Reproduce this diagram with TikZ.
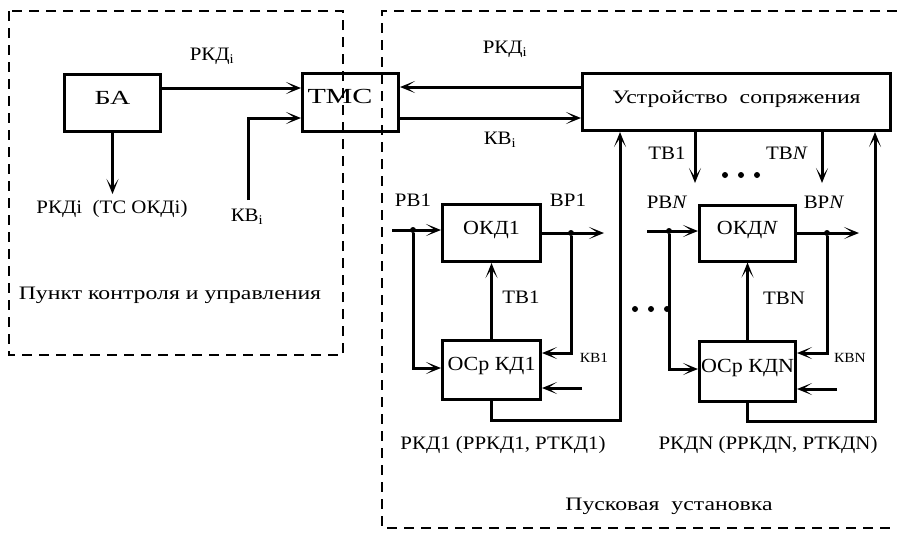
\documentclass[tikz,border=0pt]{standalone}
\usepackage{fontspec}
\setmainfont{Liberation Serif}
\newfontfamily\fA[FakeStretch=1.1]{Liberation Serif}
\newfontfamily\fW[FakeStretch=1.25]{Liberation Serif}
\newfontfamily\fB[FakeStretch=1.4]{Liberation Serif}
\usetikzlibrary{arrows.meta}
\begin{document}
\begin{tikzpicture}[x=1pt,y=-1pt,
  box/.style={draw,line width=3pt,inner sep=0pt,text height=14pt,text depth=12pt,font=\fA\fontsize{20}{22}\selectfont},
  lab/.style={font=\fA\fontsize{19}{21}\selectfont,inner sep=0pt},
  wlab/.style={font=\fW\fontsize{19}{21}\selectfont,inner sep=0pt},
  sm/.style={font=\fA\fontsize{14}{16}\selectfont,inner sep=0pt},
  arr/.style={-{Stealth[length=15pt,width=12pt,inset=9pt]},line width=3pt},
  dbox/.style={dash pattern=on 10pt off 7pt,line width=2.5pt},
  jdot/.style={circle,fill,inner sep=0pt,minimum size=6pt}]
\useasboundingbox (0,0) rectangle (897,536);
% dashed regions
\draw[dbox] (9,11) rectangle (343,355);
\draw[dbox] (897,11) -- (382,11) -- (382,528) -- (897,528);
% boxes
\node[box,minimum width=96pt,minimum height=57pt,font=\fB\fontsize{20}{22}\selectfont] (BA) at (112.5,103) {БА};
\node[box,minimum width=96pt,minimum height=58pt,text width=86pt,align=left,font=\fB\fontsize{21.5}{23}\selectfont] (TMC) at (350.5,102.5) {ТМС};
\node[box,minimum width=308pt,minimum height=57pt,font=\fW\fontsize{19}{21}\selectfont] (US) at (736.5,102) {Устройство~~сопряжения};
\node[box,minimum width=98pt,minimum height=57pt] (OKD1) at (491.5,233) {ОКД1};
\node[box,minimum width=98pt,minimum height=59pt] (OS1) at (491.5,369.5) {ОСр КД1};
\node[box,minimum width=96pt,minimum height=56pt] (OKDN) at (747.5,233) {ОКД\textit{N}};
\node[box,minimum width=96pt,minimum height=60pt] (OSN) at (747.5,371) {ОСр КДN};
% labels
\node[lab] (l1) at (212,56) {РКД\textsubscript{i}};
\node[lab] (l2) at (505,49) {РКД\textsubscript{i}};
\node[lab] (l3) at (500,140) {КВ\textsubscript{i}};
\node[lab] (l4) at (247,217) {КВ\textsubscript{i}};
\node[lab] (l5) at (112,209) {РКДi~~(ТС ОКДi)};
\node[wlab] (l6) at (170,295) {Пункт контроля и управления};
\node[lab] (l7) at (667,153) {ТВ1};
\node[lab] (l8) at (787,153) {ТВ\textit{N}};
\node[lab] (l9) at (413,200) {РВ1};
\node[lab] (l10) at (568,200) {ВР1};
\node[lab] (l11) at (521,297) {ТВ1};
\node[sm] (l12) at (594,358) {КВ1};
\node[lab] (l13) at (667,202) {РВ\textit{N}};
\node[lab] (l14) at (824,202) {ВР\textit{N}};
\node[lab] (l15) at (784,298) {ТВN};
\node[sm] (l16) at (850,358) {КВN};
\node[lab] (l17) at (503,445) {РКД1 (РРКД1, РТКД1)};
\node[lab] (l18) at (768,445) {РКДN (РРКДN, РТКДN)};
\node[wlab] (l19) at (669,506) {Пусковая~~установка};
% dots
\foreach \x in {725,741,757} \fill (\x,175) circle (3pt);
\foreach \x in {635,651,667} \fill (\x,309) circle (3pt);
% coordinates
\coordinate (kvs) at (248,200);
\coordinate (bad) at (112.5,194);
\coordinate (tb1e) at (695,183);
\coordinate (tbne) at (822,183);
\coordinate (in1) at (392,230);
\coordinate (out1) at (604,233);
\coordinate (x1) at (582,388);
\coordinate (inN) at (647,231);
\coordinate (outN) at (859,233);
\coordinate (xN) at (837,389);
% top connections
\draw[arr] (BA.east |- 0,88) -- (TMC.west |- 0,88);
\draw[arr] (kvs) |- (TMC.west |- 0,118);
\draw[arr] (BA.south) -- (bad);
\draw[arr] (US.west |- 0,87) -- (TMC.east |- 0,87);
\draw[arr] (TMC.east |- 0,118) -- (US.west |- 0,118);
\draw[arr] (US.south -| tb1e) -- (tb1e);
\draw[arr] (US.south -| tbne) -- (tbne);
% group 1
\node[jdot] (j1) at (413,230) {};
\node[jdot] (j2) at (571,233) {};
\draw[arr] (in1) -- (OKD1.west |- in1);
\draw[arr] (j1) |- (OS1.west |- 0,368);
\draw[arr] (OKD1.east |- out1) -- (out1);
\draw[arr] (j2) |- (OS1.east |- 0,353);
\draw[arr] (x1) -- (OS1.east |- x1);
\draw[arr] (OS1.north) -- (OKD1.south);
\draw[arr] (OS1.south) |- (620,420) -- (US.south -| 620,0);
% group N
\node[jdot] (j3) at (669,231) {};
\node[jdot] (j4) at (827,233) {};
\draw[arr] (inN) -- (OKDN.west |- inN);
\draw[arr] (j3) |- (OSN.west |- 0,369);
\draw[arr] (OKDN.east |- outN) -- (outN);
\draw[arr] (j4) |- (OSN.east |- 0,353);
\draw[arr] (xN) -- (OSN.east |- xN);
\draw[arr] (OSN.north) -- (OKDN.south);
\draw[arr] (OSN.south) |- (875,421) -- (US.south -| 875,0);
\end{tikzpicture}
\end{document}
